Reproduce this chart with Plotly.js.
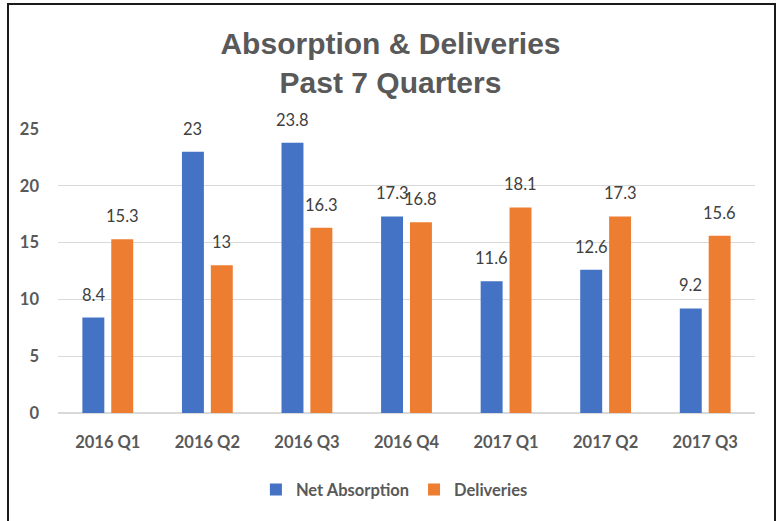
<!DOCTYPE html>
<html>
<head>
<meta charset="utf-8">
<script src="https://cdn.plot.ly/plotly-3.0.1.min.js"></script>
<style>
  html, body { margin: 0; padding: 0; background: #ffffff; }
  #wrap { position: relative; width: 781px; height: 521px; overflow: hidden; }
  #chart { width: 781px; height: 521px; }
  #frame { position: absolute; left: 7px; top: 3px; width: 765px; height: 540px;
           border-left: 2px solid #1a1a1a; border-top: 2px solid #1a1a1a; border-right: 2px solid #1a1a1a;
           pointer-events: none; }
</style>
</head>
<body>
<div id="wrap">
  <div id="chart"></div>
  <div id="frame"></div>
</div>
<script>
const categories = ["2016 Q1", "2016 Q2", "2016 Q3", "2016 Q4", "2017 Q1", "2017 Q2", "2017 Q3"];
const netAbsorption = [8.4, 23, 23.8, 17.3, 11.6, 12.6, 9.2];
const deliveries = [15.3, 13, 16.3, 16.8, 18.1, 17.3, 15.6];
const seriesNames = ["Net Absorption", "Deliveries"];
const yTicks = [0, 5, 10, 15, 20, 25];

const blue = "#4472C4";
const orange = "#ED7D31";
const labelFont = {family: "Lato, 'Open Sans', sans-serif", size: 16.5, color: "#404040"};

const traces = [
  {type: "bar", name: seriesNames[0], x: categories, y: netAbsorption,
   marker: {color: blue, line: {width: 0}}, hoverinfo: "skip"},
  {type: "bar", name: seriesNames[1], x: categories, y: deliveries,
   marker: {color: orange, line: {width: 0}}, hoverinfo: "skip"}
];

const annotations = [];
[netAbsorption, deliveries].forEach((vals, si) => {
  vals.forEach((v, i) => {
    annotations.push({
      x: categories[i], y: v, xref: "x", yref: "y",
      text: String(v), showarrow: false,
      xanchor: "center", yanchor: "bottom",
      xshift: si === 0 ? -14.4 : 14.4, yshift: 11,
      font: labelFont
    });
  });
});

const layout = {
  width: 781, height: 521,
  margin: {l: 58, r: 26, t: 129, b: 108, autoexpand: false},
  paper_bgcolor: "#ffffff", plot_bgcolor: "#ffffff",
  title: {
    text: "Absorption & Deliveries<br>Past 7 Quarters",
    font: {family: "'Liberation Sans', Arial, sans-serif", size: 30, color: "#595959", weight: "bold"},
    x: 0.5, xanchor: "center", xref: "container",
    y: 0.897, yanchor: "top", yref: "container",
    automargin: false
  },
  barmode: "group",
  bargap: 0.42,
  bargroupgap: 0.24,
  xaxis: {
    type: "category",
    tickfont: {family: "Lato, 'Open Sans', sans-serif", size: 16.5, color: "#595959", weight: "bold"},
    showgrid: false, showline: false, ticks: "", zeroline: false,
    tickangle: 0, automargin: false,
    ticklabelstandoff: 17
  },
  yaxis: {
    range: [0, 25],
    tickvals: yTicks,
    tickfont: {family: "Lato, 'Open Sans', sans-serif", size: 16.5, color: "#595959", weight: "bold"},
    showgrid: true, gridcolor: "#d9d9d9", gridwidth: 1,
    zeroline: true, zerolinecolor: "#d9d9d9", zerolinewidth: 1.5,
    showline: false, ticks: "", automargin: false,
    ticklabelstandoff: 18
  },
  legend: {
    orientation: "h",
    x: 0.505, xref: "container", xanchor: "center",
    y: 0.06, yref: "container", yanchor: "middle",
    font: {family: "Lato, 'Open Sans', sans-serif", size: 16.5, color: "#595959", weight: "bold"},
    traceorder: "normal"
  },
  showlegend: true,
  annotations: annotations
};

Plotly.newPlot("chart", traces, layout, {displayModeBar: false, staticPlot: true});
</script>
</body>
</html>
